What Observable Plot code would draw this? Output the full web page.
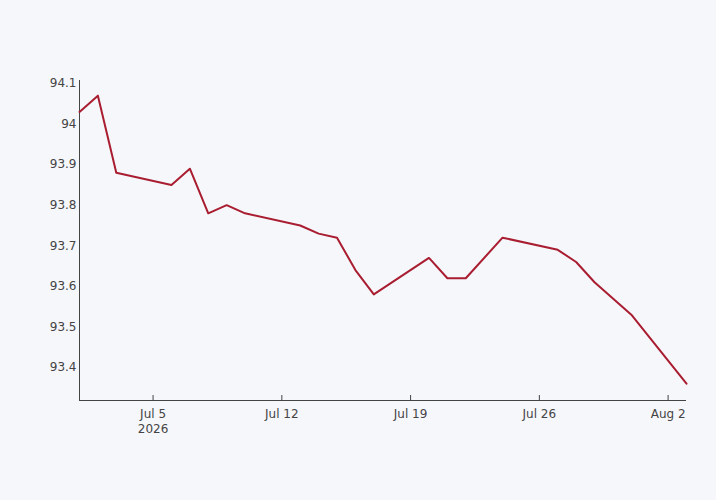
<!DOCTYPE html>
<html>
<head>
<meta charset="utf-8">
<script src="https://cdn.jsdelivr.net/npm/d3@7"></script>
<script src="https://cdn.jsdelivr.net/npm/@observablehq/plot@0.6"></script>
<style>
  html, body { margin: 0; padding: 0; background: #f6f7fb; }
  #chart svg { display: block; background: #f6f7fb; }
  #chart svg text, #chart svg g[aria-label*="axis"] { font-size: 12px !important; font-family: "DejaVu Sans", sans-serif !important; }
</style>
</head>
<body>
<div id="chart"></div>
<script>
const dates = ["2026-07-01","2026-07-02","2026-07-03","2026-07-06","2026-07-07","2026-07-08","2026-07-09","2026-07-10","2026-07-13","2026-07-14","2026-07-15","2026-07-16","2026-07-17","2026-07-20","2026-07-21","2026-07-22","2026-07-24","2026-07-27","2026-07-28","2026-07-29","2026-07-31","2026-08-03"];
const values = [94.03,94.07,93.88,93.85,93.89,93.78,93.80,93.78,93.75,93.73,93.72,93.64,93.58,93.67,93.62,93.62,93.72,93.69,93.66,93.61,93.53,93.36];
const xTickDates = ["2026-07-05","2026-07-12","2026-07-19","2026-07-26","2026-08-02"];
const xTickLabels = ["Jul 5\n2026","Jul 12","Jul 19","Jul 26","Aug 2"];
const yTicks = [93.4,93.5,93.6,93.7,93.8,93.9,94.0,94.1];
const yDomain = [93.3186, 94.1074];

const data = dates.map((d, i) => ({date: new Date(d), value: values[i]}));
const xTicks = xTickDates.map(d => new Date(d));
const labelOf = new Map(xTicks.map((d, i) => [+d, xTickLabels[i]]));
const xDomain = [data[0].date, data[data.length - 1].date];

const ink = "#444";
const chart = Plot.plot({
  width: 716,
  height: 500,
  marginLeft: 79,
  marginRight: 30,
  marginTop: 80,
  marginBottom: 100,
  style: {background: "#f6f7fb", fontFamily: "DejaVu Sans", fontSize: "12px", color: ink},
  x: {type: "utc", domain: xDomain},
  y: {domain: yDomain},
  marks: [
    Plot.axisY({ticks: yTicks, tickSize: 0, tickPadding: 3, tickFormat: d => String(+d.toFixed(1)), label: null, fill: ink, fontSize: 12}),
    Plot.axisX({ticks: xTicks, tickSize: 0, tickPadding: 7, tickFormat: d => labelOf.get(+d), label: null, fill: ink, fontSize: 12, lineHeight: 1.25}),
    Plot.axisX({ticks: xTicks, tickSize: 5, dy: -5, tickFormat: () => "", label: null, stroke: ink}),
    Plot.ruleX([xDomain[0]], {stroke: ink, strokeWidth: 1}),
    Plot.ruleY([yDomain[0]], {stroke: ink, strokeWidth: 1}),
    Plot.line(data, {x: "date", y: "value", stroke: "#a91d31", strokeWidth: 2})
  ]
});
document.getElementById("chart").appendChild(chart);
</script>
</body>
</html>
